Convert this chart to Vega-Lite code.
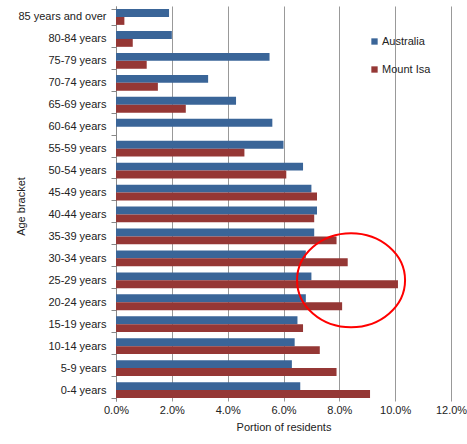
{
  "$schema": "https://vega.github.io/schema/vega-lite/v6.json",
  "width": 335,
  "height": 395,
  "autosize": {"type": "none"},
  "padding": {"left": 116, "top": 6, "right": 16, "bottom": 43},
  "config": {
    "font": "Liberation Sans",
    "view": {"stroke": null},
    "axis": {"labelFontSize": 11, "labelColor": "#222", "titleFontSize": 11, "titleFontWeight": "normal", "titleColor": "#222"}
  },
  "layer": [
    {
      "data": {
        "values": [
          {"Age": "85 years and over", "Series": "Australia", "Portion": 0.019},
          {"Age": "85 years and over", "Series": "Mount Isa", "Portion": 0.003},
          {"Age": "80-84 years", "Series": "Australia", "Portion": 0.020},
          {"Age": "80-84 years", "Series": "Mount Isa", "Portion": 0.006},
          {"Age": "75-79 years", "Series": "Australia", "Portion": 0.055},
          {"Age": "75-79 years", "Series": "Mount Isa", "Portion": 0.011},
          {"Age": "70-74 years", "Series": "Australia", "Portion": 0.033},
          {"Age": "70-74 years", "Series": "Mount Isa", "Portion": 0.015},
          {"Age": "65-69 years", "Series": "Australia", "Portion": 0.043},
          {"Age": "65-69 years", "Series": "Mount Isa", "Portion": 0.025},
          {"Age": "60-64 years", "Series": "Australia", "Portion": 0.056},
          {"Age": "55-59 years", "Series": "Australia", "Portion": 0.060},
          {"Age": "55-59 years", "Series": "Mount Isa", "Portion": 0.046},
          {"Age": "50-54 years", "Series": "Australia", "Portion": 0.067},
          {"Age": "50-54 years", "Series": "Mount Isa", "Portion": 0.061},
          {"Age": "45-49 years", "Series": "Australia", "Portion": 0.070},
          {"Age": "45-49 years", "Series": "Mount Isa", "Portion": 0.072},
          {"Age": "40-44 years", "Series": "Australia", "Portion": 0.072},
          {"Age": "40-44 years", "Series": "Mount Isa", "Portion": 0.071},
          {"Age": "35-39 years", "Series": "Australia", "Portion": 0.071},
          {"Age": "35-39 years", "Series": "Mount Isa", "Portion": 0.079},
          {"Age": "30-34 years", "Series": "Australia", "Portion": 0.068},
          {"Age": "30-34 years", "Series": "Mount Isa", "Portion": 0.083},
          {"Age": "25-29 years", "Series": "Australia", "Portion": 0.070},
          {"Age": "25-29 years", "Series": "Mount Isa", "Portion": 0.101},
          {"Age": "20-24 years", "Series": "Australia", "Portion": 0.068},
          {"Age": "20-24 years", "Series": "Mount Isa", "Portion": 0.081},
          {"Age": "15-19 years", "Series": "Australia", "Portion": 0.065},
          {"Age": "15-19 years", "Series": "Mount Isa", "Portion": 0.067},
          {"Age": "10-14 years", "Series": "Australia", "Portion": 0.064},
          {"Age": "10-14 years", "Series": "Mount Isa", "Portion": 0.073},
          {"Age": "5-9 years", "Series": "Australia", "Portion": 0.063},
          {"Age": "5-9 years", "Series": "Mount Isa", "Portion": 0.079},
          {"Age": "0-4 years", "Series": "Australia", "Portion": 0.066},
          {"Age": "0-4 years", "Series": "Mount Isa", "Portion": 0.091}
        ]
      },
      "mark": {"type": "bar"},
      "encoding": {
        "y": {
          "field": "Age", "type": "nominal",
          "sort": ["85 years and over", "80-84 years", "75-79 years", "70-74 years", "65-69 years", "60-64 years", "55-59 years", "50-54 years", "45-49 years", "40-44 years", "35-39 years", "30-34 years", "25-29 years", "20-24 years", "15-19 years", "10-14 years", "5-9 years", "0-4 years"],
          "scale": {"paddingInner": 0.28, "paddingOuter": 0.14},
          "axis": {"title": "Age bracket", "tickBand": "extent", "domainColor": "#888", "tickColor": "#888", "tickSize": 5, "labelPadding": 5, "titleX": -90, "titleY": 200}
        },
        "yOffset": {"field": "Series", "type": "nominal", "sort": ["Australia", "Mount Isa"]},
        "x": {
          "field": "Portion", "type": "quantitative",
          "scale": {"domain": [0, 0.12], "nice": false},
          "axis": {"title": "Portion of residents", "format": ".1%", "values": [0, 0.02, 0.04, 0.06, 0.08, 0.1, 0.12], "labelFlush": false, "domain": false, "ticks": false, "grid": true, "gridColor": "#999", "labelPadding": 3, "titlePadding": 6}
        },
        "color": {
          "field": "Series", "type": "nominal",
          "scale": {"domain": ["Australia", "Mount Isa"], "range": ["#3A6598", "#953735"]},
          "legend": {"title": null, "orient": "none", "legendX": 253, "legendY": 30, "symbolType": "square", "symbolSize": 40, "labelFontSize": 11, "labelColor": "#222", "labelOffset": 2, "rowPadding": 16}
        }
      }
    },
    {
      "data": {"values": [{"Age": "25-29 years", "Portion": 0.0842}]},
      "mark": {"type": "point", "shape": "M -1 0 A 1 0.87 0 1 0 1 0 A 1 0.87 0 1 0 -1 0 Z", "size": 11664, "stroke": "#FF0000", "strokeWidth": 2, "filled": false, "opacity": 1},
      "encoding": {
        "x": {"field": "Portion", "type": "quantitative"},
        "y": {
          "field": "Age", "type": "nominal",
          "sort": ["85 years and over", "80-84 years", "75-79 years", "70-74 years", "65-69 years", "60-64 years", "55-59 years", "50-54 years", "45-49 years", "40-44 years", "35-39 years", "30-34 years", "25-29 years", "20-24 years", "15-19 years", "10-14 years", "5-9 years", "0-4 years"]
        }
      }
    }
  ]
}
